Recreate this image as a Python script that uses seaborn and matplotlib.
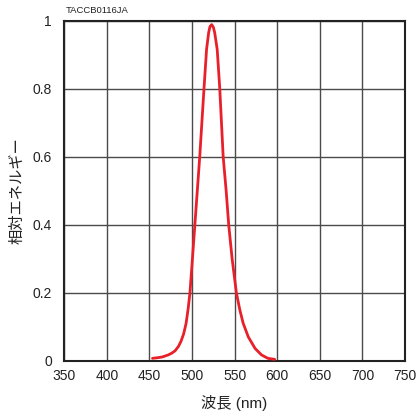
import matplotlib
matplotlib.use("Agg")
import matplotlib.pyplot as plt
import seaborn as sns
import pandas as pd

# Relative spectral energy of the emitter
wavelength_nm = [453.5, 460, 465, 472, 476, 480, 484, 487, 490, 493, 495.5,
                 497.5, 500, 503, 506, 509, 511.5, 514, 517, 519.5,
                 521, 523, 525, 526.5, 529.5, 532.5, 534.5, 536.5, 540, 543,
                 547, 549.5, 552, 556, 560, 566, 574, 581.5, 589, 597]
relative_energy = [0.007, 0.009, 0.011, 0.017, 0.022, 0.029, 0.042, 0.057,
                   0.078, 0.11, 0.155, 0.2, 0.285, 0.39, 0.495, 0.6, 0.7,
                   0.8, 0.915, 0.965, 0.982, 0.988, 0.98, 0.965, 0.915, 0.8,
                   0.7, 0.6, 0.5, 0.4, 0.3, 0.25, 0.2, 0.15, 0.11, 0.07,
                   0.036, 0.017, 0.007, 0.004]

x_ticks = [350, 400, 450, 500, 550, 600, 650, 700, 750]
y_ticks = [0, 0.2, 0.4, 0.6, 0.8, 1.0]
y_tick_labels = ["0", "0.2", "0.4", "0.6", "0.8", "1"]

sns.set_theme(style="white")
plt.rcParams["font.family"] = ["Liberation Sans", "Noto Sans CJK JP", "DejaVu Sans"]

df = pd.DataFrame({"wavelength": wavelength_nm, "energy": relative_energy})

fig = plt.figure(figsize=(4.16, 4.16), dpi=100)
ax = fig.add_axes([0.1546, 0.1329, 0.8190, 0.8178])

sns.lineplot(data=df, x="wavelength", y="energy", ax=ax,
             color="#e8202a", linewidth=2.0, zorder=3)

ax.set_xlim(350, 750)
ax.set_ylim(0, 1)
ax.set_xticks(x_ticks)
ax.set_xticklabels([str(t) for t in x_ticks])
ax.set_yticks(y_ticks)
ax.set_yticklabels(y_tick_labels)
ax.tick_params(axis="both", length=0, labelsize=10, colors="#222222")
ax.tick_params(axis="x", pad=6)
ax.tick_params(axis="y", pad=9)

ax.grid(True, color="#4a4a4a", linewidth=1.0, zorder=1)
for s in ax.spines.values():
    s.set_color("#222222")
    s.set_linewidth(1.5)

ax.set_xlabel("")
ax.set_ylabel("")
fig.text(0.564, 0.031, "波長 (nm)", fontsize=11, color="#222222",
         ha="center", va="center")
fig.text(0.041, 0.542, "相対エネルギー", fontsize=11, color="#222222",
         ha="center", va="center", rotation=90)

fig.text(0.159, 0.975, "TACCB0116JA", fontsize=6.8, color="#222222",
         ha="left", va="center")

fig.savefig("out.png", dpi=100)
